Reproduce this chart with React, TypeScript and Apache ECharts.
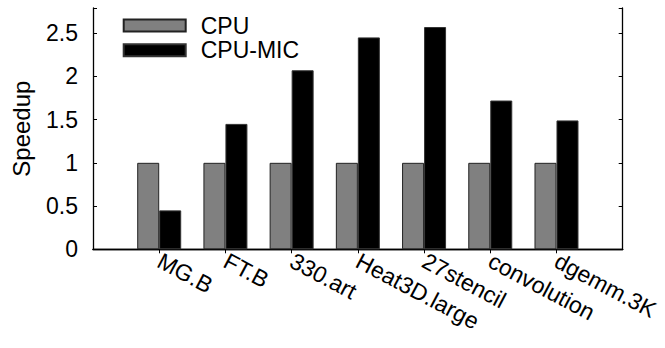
import React, { useEffect, useRef } from "react";
import * as echarts from "echarts";

// Benchmarks on the x axis
const benchmarks = ["MG.B", "FT.B", "330.art", "Heat3D.large", "27stencil", "convolution", "dgemm.3K"];
// Speedup relative to the CPU-only run
const cpuSpeedup = [1, 1, 1, 1, 1, 1, 1];
const cpuMicSpeedup = [0.45, 1.45, 2.07, 2.45, 2.57, 1.72, 1.49];
// Y tick values
const yTicks = [0, 0.5, 1, 1.5, 2, 2.5];

const FONT = "'Liberation Sans', Arial, Helvetica, sans-serif";

// The x range runs one slot beyond the first and last benchmark on each side
const padded = <T,>(arr: T[], empty: T): T[] => [empty, ...arr, empty];

export default function App() {
  const ref = useRef<HTMLDivElement>(null);

  useEffect(() => {
    if (!ref.current) return;
    const chart = echarts.init(ref.current, undefined, { renderer: "svg" });
    const cats = padded(benchmarks, "");
    const edgeTick = (i: number) => i > 0 && i < cats.length - 1;
    const isTick = (v: number) => yTicks.some((t) => Math.abs(t - v) < 1e-9);

    chart.setOption({
      animation: false,
      textStyle: { fontFamily: FONT, color: "#000" },
      grid: { left: 93, top: 8, right: 42.3, bottom: 98.7 },
      legend: {
        orient: "vertical",
        left: 122.7,
        top: 14,
        padding: 0,
        itemGap: 1.7,
        itemWidth: 62,
        itemHeight: 12,
        icon: "rect",
        textStyle: { fontFamily: FONT, fontSize: 23, color: "#000", padding: [0, 0, 0, 10] },
        data: ["CPU", "CPU-MIC"],
      },
      xAxis: [
        {
          type: "category",
          data: cats,
          boundaryGap: false,
          position: "bottom",
          axisLine: { show: true, lineStyle: { color: "#000", width: 1.3 } },
          axisTick: { show: false },
          axisLabel: {
            interval: 0,
            rotate: -28,
            margin: 10,
            fontSize: 23,
            fontFamily: FONT,
            color: "#000",
          },
          splitLine: { show: false },
        },
        {
          type: "category",
          data: cats,
          boundaryGap: false,
          position: "top",
          axisLine: { show: true, lineStyle: { color: "#000", width: 1.3 } },
          axisTick: { show: true, inside: true, length: 4, interval: edgeTick, lineStyle: { color: "#000" } },
          axisLabel: { show: false },
          splitLine: { show: false },
        },
      ],
      yAxis: [
        {
          type: "value",
          min: 0,
          max: 2.79,
          interval: 0.5,
          position: "left",
          name: "Speedup",
          nameLocation: "middle",
          nameGap: 60,
          nameRotate: 90,
          nameTextStyle: { fontSize: 24, fontFamily: FONT, color: "#000" },
          axisLine: { show: true, lineStyle: { color: "#000", width: 1.3 } },
          axisTick: { show: true, inside: true, length: 4, lineStyle: { color: "#000" } },
          axisLabel: {
            margin: 15,
            fontSize: 23,
            fontFamily: FONT,
            color: "#000",
            formatter: (v: number) => (isTick(v) ? String(v) : ""),
          },
          splitLine: { show: false },
        },
        {
          type: "value",
          min: 0,
          max: 2.79,
          interval: 0.5,
          position: "right",
          axisLine: { show: true, lineStyle: { color: "#000", width: 1.3 } },
          axisTick: { show: true, inside: true, length: 4, lineStyle: { color: "#000" } },
          axisLabel: { show: false },
          splitLine: { show: false },
        },
      ],
      series: [
        {
          name: "CPU",
          type: "bar",
          xAxisIndex: 0,
          yAxisIndex: 0,
          data: padded<number | string>(cpuSpeedup, "-"),
          barWidth: 22,
          barGap: "0%",
          itemStyle: { color: "#808080", borderColor: "#222", borderWidth: 1 },
        },
        {
          name: "CPU-MIC",
          type: "bar",
          xAxisIndex: 0,
          yAxisIndex: 0,
          data: padded<number | string>(cpuMicSpeedup, "-"),
          barWidth: 22,
          barGap: "0%",
          itemStyle: { color: "#000", borderColor: "#333", borderWidth: 1 },
        },
      ],
    });

    return () => chart.dispose();
  }, []);

  return (
    <div
      ref={ref}
      style={{ position: "fixed", left: 0, top: 0, width: 665, height: 348, background: "#fff" }}
    />
  );
}
